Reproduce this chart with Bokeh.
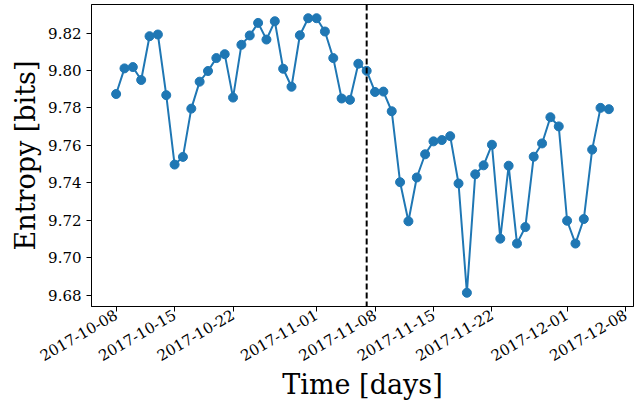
import numpy as np
import pandas as pd
from bokeh.plotting import figure
from bokeh.models import Range1d, FixedTicker, DatetimeTickFormatter, Span, ColumnDataSource
from bokeh.embed import file_html
from bokeh.resources import INLINE

start_date = "2017-10-08"
n_days = 60
entropy = [9.7874, 9.8011, 9.8018, 9.7949, 9.8183, 9.8192, 9.7868, 9.7497, 9.7538, 9.7796,
           9.7940, 9.7997, 9.8066, 9.8087, 9.7855, 9.8137, 9.8187, 9.8254, 9.8165, 9.8263,
           9.8009, 9.7913, 9.8188, 9.8279, 9.8279, 9.8208, 9.8066, 9.7850, 9.7843, 9.8036,
           9.7998, 9.7885, 9.7887, 9.7782, 9.7403, 9.7194, 9.7428, 9.7552, 9.7621, 9.7628,
           9.7649, 9.7396, 9.6812, 9.7445, 9.7493, 9.7603, 9.7101, 9.7491, 9.7075, 9.7163,
           9.7539, 9.7610, 9.7750, 9.7701, 9.7197, 9.7075, 9.7206, 9.7577, 9.7800, 9.7793]
event_date = "2017-11-07"
x_tick_dates = ["2017-10-08", "2017-10-15", "2017-10-22", "2017-11-01", "2017-11-08",
                "2017-11-15", "2017-11-22", "2017-12-01", "2017-12-08"]
y_ticks = [9.68, 9.70, 9.72, 9.74, 9.76, 9.78, 9.80, 9.82]

dates = pd.date_range(start_date, periods=n_days, freq="D")
src = ColumnDataSource(dict(x=dates, y=entropy))

x0, x1 = dates[0], dates[-1]
xpad = (x1 - x0) * 0.05
ymin, ymax = min(entropy), max(entropy)
ypad = (ymax - ymin) * 0.05

FONT = "DejaVu Serif"

p = figure(width=644, height=409, x_axis_type="datetime",
           x_range=Range1d(x0 - xpad, x1 + xpad),
           y_range=Range1d(ymin - ypad, ymax + ypad),
           output_backend="svg", toolbar_location=None,
           min_border_left=91, min_border_right=11, min_border_top=4, min_border_bottom=103)

p.line("x", "y", source=src, line_color="#1f77b4", line_width=2)
p.scatter("x", "y", source=src, size=9, fill_color="#1f77b4", line_color="#1f77b4")

ev_ms = pd.Timestamp(event_date).value / 1e6
p.add_layout(Span(location=ev_ms, dimension="height", line_color="black",
                  line_width=2, line_dash="6 3"))

p.xgrid.visible = False
p.ygrid.visible = False
p.outline_line_color = "black"
p.outline_line_width = 1
p.background_fill_color = "white"
p.border_fill_color = "white"

p.xaxis.ticker = FixedTicker(ticks=[pd.Timestamp(d).value / 1e6 for d in x_tick_dates])
fmt = "%Y-%m-%d"
p.xaxis.formatter = DatetimeTickFormatter(days=fmt, months=fmt, years=fmt, hours=fmt,
                                          minutes=fmt, seconds=fmt, milliseconds=fmt,
                                          microseconds=fmt, hourmin=fmt, minsec=fmt)
p.xaxis.major_label_orientation = np.pi / 6
p.yaxis.ticker = FixedTicker(ticks=y_ticks)
p.yaxis.major_label_overrides = {t: f"{t:.2f}" for t in y_ticks}

p.xaxis.axis_label = "Time [days]"
p.yaxis.axis_label = "Entropy [bits]"

for ax in (p.xaxis, p.yaxis):
    ax.axis_line_color = "black"
    ax.major_tick_line_color = "black"
    ax.major_tick_in = 0
    ax.major_tick_out = 5
    ax.minor_tick_line_color = None
    ax.major_label_text_font = FONT
    ax.major_label_text_font_size = "15px"
    ax.major_label_text_color = "black"
    ax.axis_label_text_font = FONT
    ax.axis_label_text_font_size = "27px"
    ax.axis_label_text_font_style = "normal"
    ax.axis_label_text_color = "black"
    ax.major_label_standoff = 5
    ax.axis_label_standoff = 4
p.xaxis.major_label_standoff = 2
p.xaxis.axis_label_standoff = 0

open("out.html", "w").write(file_html(p, INLINE))
